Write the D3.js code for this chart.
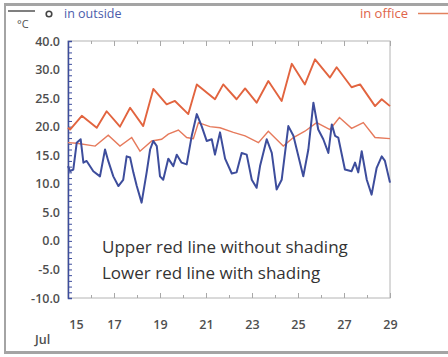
<!DOCTYPE html>
<html>
<head>
<meta charset="utf-8">
<script src="https://cdn.jsdelivr.net/npm/d3@7"></script>
<style>
  body { margin: 0; background: #fff; }
  svg { display: block; }
</style>
</head>
<body>
<div id="chart"></div>
<script>
// Datos: [día de julio, °C]
const officeUpper = [
  [15.0, 19.8], [15.09, 19.5], [15.6, 21.9], [16.25, 19.8], [16.68, 22.7], [17.26, 20.0],
  [17.7, 23.3], [18.27, 20.1], [18.71, 26.6], [19.29, 23.9], [19.65, 24.5], [20.23, 22.2],
  [20.6, 27.4], [21.39, 24.8], [21.75, 27.4], [22.33, 24.8], [22.7, 26.7], [23.2, 24.2],
  [23.71, 28.0], [24.29, 24.5], [24.73, 31.0], [25.3, 27.4], [25.74, 31.8], [26.39, 28.6],
  [26.53, 29.5], [26.68, 30.4], [27.33, 26.9], [27.7, 27.4], [28.35, 23.6], [28.64, 24.8],
  [29.0, 23.6]
];
const officeLower = [
  [15.0, 17.2], [15.38, 17.1], [16.18, 16.6], [16.75, 18.5], [17.26, 16.6], [17.77, 18.1],
  [18.13, 15.7], [18.64, 17.5], [19.07, 17.8], [19.36, 18.7], [19.8, 19.4], [20.16, 18.1],
  [20.45, 17.9], [20.67, 20.7], [21.17, 20.0], [21.61, 19.8], [22.19, 19.0], [22.7, 18.4],
  [23.28, 17.2], [23.71, 19.2], [24.36, 16.6], [24.8, 18.1], [25.3, 19.2], [25.81, 20.7],
  [26.39, 19.5], [26.8, 21.6], [27.33, 19.7], [27.84, 20.7], [28.35, 18.1], [29.0, 17.9]
];
const outside = [
  [15.0, 13.1], [15.09, 12.2], [15.23, 12.5], [15.38, 17.2], [15.55, 17.8], [15.67, 13.7],
  [15.81, 14.0], [16.10, 12.2], [16.39, 11.3], [16.61, 16.0], [16.75, 14.0], [16.97, 11.3],
  [17.19, 9.6], [17.40, 10.7], [17.55, 14.8], [17.70, 14.6], [17.84, 12.0], [17.99, 9.6],
  [18.20, 6.7], [18.42, 12.0], [18.57, 16.0], [18.71, 17.5], [18.86, 16.6], [19.00, 11.3],
  [19.14, 10.7], [19.36, 14.4], [19.58, 13.1], [19.73, 15.1], [19.94, 13.7], [20.16, 13.4],
  [20.38, 18.4], [20.60, 22.2], [20.81, 20.1], [21.03, 17.5], [21.25, 17.8], [21.39, 15.1],
  [21.61, 19.0], [21.83, 14.4], [22.12, 11.8], [22.33, 12.0], [22.55, 15.4], [22.77, 15.1],
  [22.99, 10.7], [23.20, 9.3], [23.35, 13.1], [23.64, 17.8], [23.86, 15.4], [24.07, 9.0],
  [24.29, 10.7], [24.58, 20.1], [24.80, 18.4], [25.23, 11.3], [25.45, 16.0], [25.67, 24.2],
  [25.88, 19.5], [26.10, 17.8], [26.32, 15.4], [26.47, 20.4], [26.61, 18.4], [26.75, 18.1],
  [27.04, 12.5], [27.33, 12.2], [27.48, 13.7], [27.62, 12.0], [27.77, 15.7], [27.99, 10.7],
  [28.20, 8.1], [28.42, 12.8], [28.64, 14.8], [28.78, 14.0], [29.00, 10.2]
];

// Etiquetas de los ejes
const yTickValues = [-10, -5, 0, 5, 10, 15, 20, 25, 30, 35];
const yTickLabels = ["-10.0", "-5.0", "0.0", "5.0", "10.0", "15.0", "20.0", "25.0", "30.0", "40.0"];
const xTickValues = [15, 17, 19, 21, 23, 25, 27, 29];
const notes = ["Upper red line without shading", "Lower red line with shading"];

const W = 448, H = 357;
const plot = { left: 68, right: 390, top: 41, bottom: 298 };
const font = "'Open Sans', 'Noto Sans', sans-serif";
const blue = "#3d4d9c", red = "#e2643f", grey = "#4f4f4f";

const svg = d3.select("#chart").append("svg")
  .attr("width", W).attr("height", H);

svg.append("rect").attr("width", W).attr("height", H).attr("fill", "#fff");

// Marco exterior
svg.append("line").attr("x1", 4).attr("x2", W).attr("y1", 4.5).attr("y2", 4.5)
  .attr("stroke", "#a4a4a4").attr("stroke-width", 3);
svg.append("line").attr("x1", 5).attr("x2", 5).attr("y1", 3).attr("y2", 353)
  .attr("stroke", "#a4a4a4").attr("stroke-width", 2);
svg.append("line").attr("x1", 4).attr("x2", W).attr("y1", 352.5).attr("y2", 352.5)
  .attr("stroke", "#a4a4a4").attr("stroke-width", 3);

// Escalas
const x = d3.scaleLinear().domain([15, 29]).range([plot.left, plot.right]);
const y = d3.scaleLinear().domain([-10, 35]).range([plot.bottom, plot.top]);

// Marco del gráfico
svg.append("rect")
  .attr("x", plot.left).attr("y", plot.top)
  .attr("width", plot.right - plot.left).attr("height", plot.bottom - plot.top)
  .attr("fill", "#fff").attr("stroke", "#b4b4b4").attr("stroke-width", 1);

// Marcas del eje x (abajo y arriba)
const days = d3.range(15, 30);
const bottomTicks = svg.append("g")
  .attr("transform", `translate(0,${plot.bottom})`)
  .call(d3.axisTop(x).tickValues(days).tickSize(0).tickFormat(""));
bottomTicks.select(".domain").remove();
bottomTicks.selectAll(".tick line")
  .attr("y2", d => d % 2 ? -5 : -3).attr("stroke", "#a8a8a8");

const topTicks = svg.append("g")
  .attr("transform", `translate(0,${plot.top})`)
  .call(d3.axisBottom(x).tickValues(days).tickSize(0).tickFormat(""));
topTicks.select(".domain").remove();
topTicks.selectAll(".tick line")
  .attr("y2", d => d % 2 ? 5 : 3).attr("stroke", "#a8a8a8");

// Etiquetas del eje x
const xLabels = svg.append("g")
  .attr("transform", `translate(0,${plot.bottom + 19})`)
  .call(d3.axisBottom(x).tickValues(xTickValues).tickSize(0).tickFormat(d3.format("d")));
xLabels.select(".domain").remove();
xLabels.selectAll("text")
  .attr("font-family", font).attr("font-size", 12.5).attr("font-weight", 600)
  .attr("fill", grey)
  .attr("dx", d => d === 15 ? 8 : 0);

svg.append("text").attr("x", 35).attr("y", 344)
  .attr("font-family", font).attr("font-size", 12.5).attr("font-weight", 600)
  .attr("fill", grey).text("Jul");

// Eje y: marcas menores azules
const leftTicks = svg.append("g")
  .attr("transform", `translate(${plot.left},0)`)
  .call(d3.axisRight(y).tickValues(d3.range(-10, 36, 1)).tickSize(4).tickFormat(""));
leftTicks.select(".domain").attr("stroke", blue).attr("stroke-width", 1.5);
leftTicks.selectAll(".tick line").attr("stroke", blue).attr("stroke-width", 1);

// Eje y: etiquetas
const yLabels = svg.append("g")
  .attr("transform", `translate(${plot.left - 5},0)`)
  .call(d3.axisLeft(y).tickValues(yTickValues).tickSize(0)
    .tickFormat((d, i) => yTickLabels[i]));
yLabels.select(".domain").remove();
yLabels.selectAll("text")
  .attr("font-family", font).attr("font-size", 12.5).attr("font-weight", 600)
  .attr("fill", grey);

// Líneas
const line = d3.line().x(d => x(d[0])).y(d => y(d[1]));

svg.append("path").datum(officeLower)
  .attr("d", line).attr("fill", "none")
  .attr("stroke", "#e67a5c").attr("stroke-width", 1.4);

svg.append("path").datum(officeUpper)
  .attr("d", line).attr("fill", "none")
  .attr("stroke", red).attr("stroke-width", 1.9).attr("stroke-linejoin", "round");

svg.append("path").datum(outside)
  .attr("d", line).attr("fill", "none")
  .attr("stroke", blue).attr("stroke-width", 2).attr("stroke-linejoin", "round");

// Notas
svg.selectAll(".note").data(notes).enter().append("text")
  .attr("class", "note")
  .attr("x", 102).attr("y", (d, i) => 253 + i * 26)
  .attr("font-family", font).attr("font-size", 17)
  .attr("fill", "#333").text(d => d);

// Leyenda
svg.append("line").attr("x1", 8).attr("x2", 35).attr("y1", 11).attr("y2", 11)
  .attr("stroke", "#555").attr("stroke-width", 1.5);
svg.append("circle").attr("cx", 49).attr("cy", 14).attr("r", 2.8)
  .attr("fill", "none").attr("stroke", "#444").attr("stroke-width", 1.6);
svg.append("text").attr("x", 64).attr("y", 18)
  .attr("font-family", font).attr("font-size", 12.5).attr("fill", "#4b5cab")
  .text("in outside");
svg.append("text").attr("x", 17).attr("y", 28)
  .attr("font-family", font).attr("font-size", 11).attr("fill", grey)
  .text("°C");
svg.append("text").attr("x", 408).attr("y", 18).attr("text-anchor", "end")
  .attr("font-family", font).attr("font-size", 13).attr("fill", "#e0644a")
  .text("in office");
svg.append("line").attr("x1", 418).attr("x2", W).attr("y1", 13.5).attr("y2", 13.5)
  .attr("stroke", "#e2825f").attr("stroke-width", 1.5);
</script>
</body>
</html>
